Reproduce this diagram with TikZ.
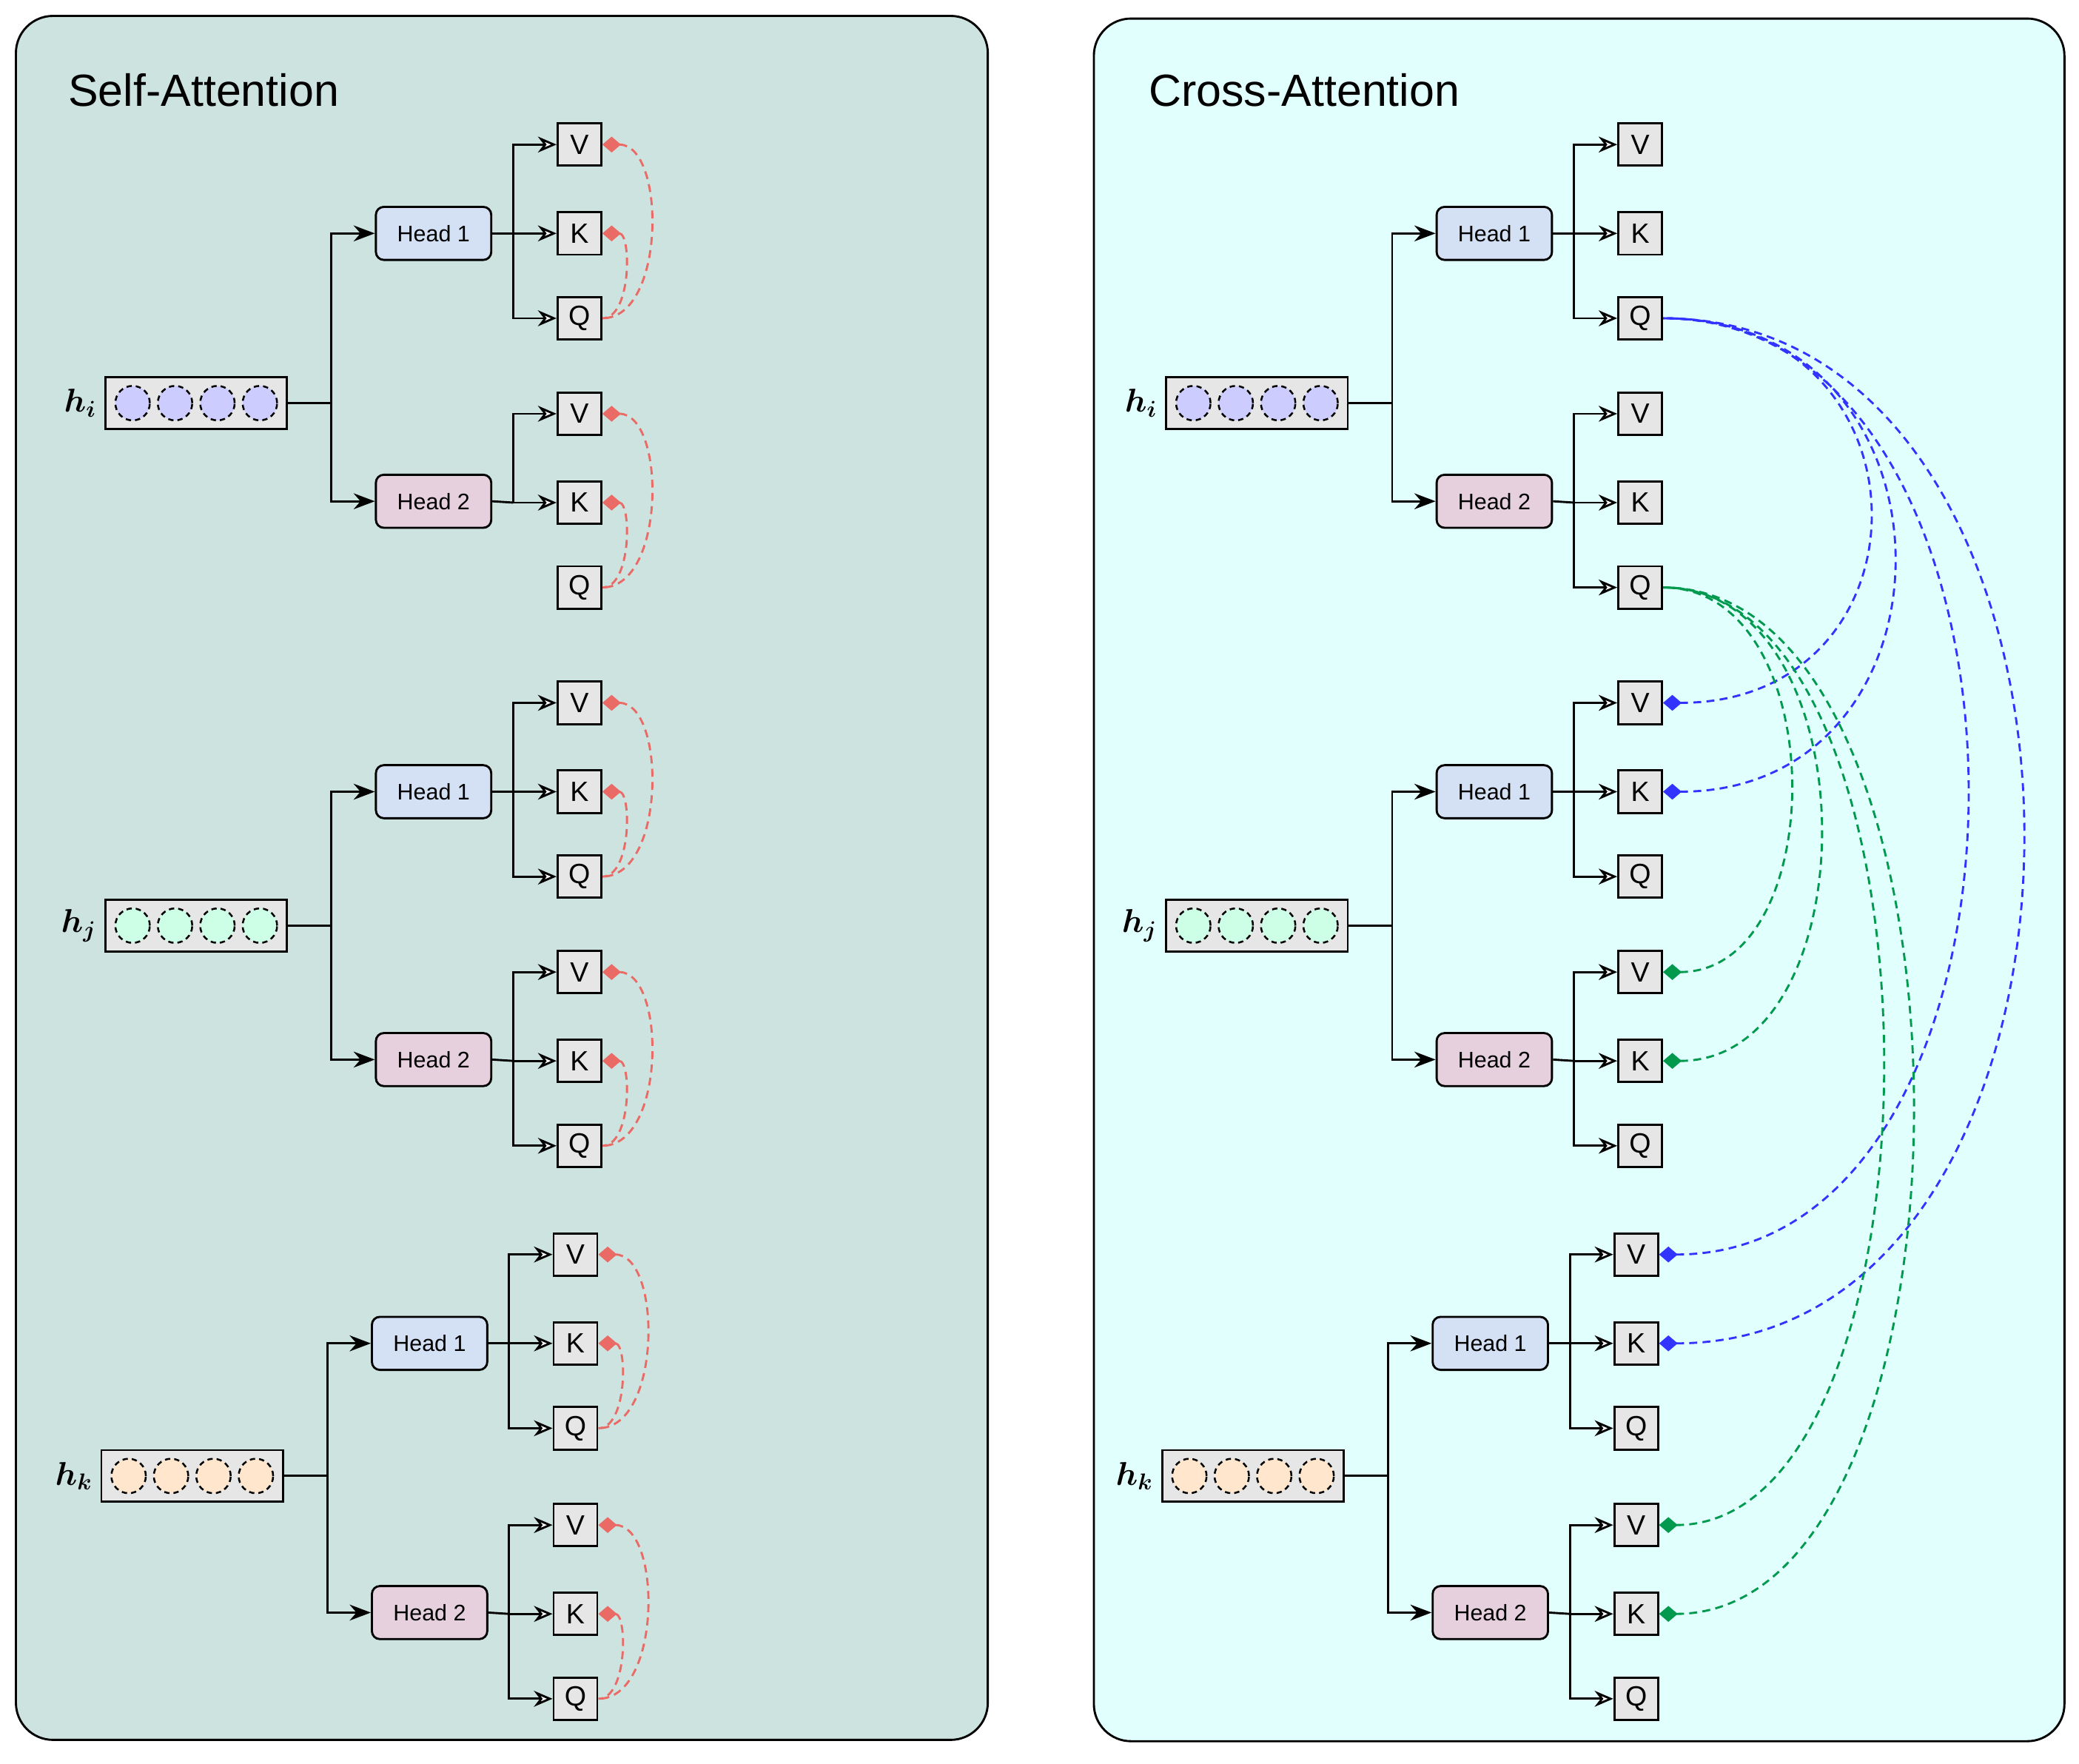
\documentclass[tikz,border=0pt]{standalone}
\usepackage{fontspec}
\setmainfont{Liberation Sans}
\usepackage{amsmath,bm}
\usetikzlibrary{arrows.meta}
\definecolor{selfbg}{HTML}{CDE3DF}
\definecolor{crossbg}{HTML}{E0FFFD}
\definecolor{h1fill}{HTML}{D4E1F5}
\definecolor{h2fill}{HTML}{E6D0DE}
\definecolor{boxfill}{HTML}{E6E6E6}
\definecolor{redl}{HTML}{EA6B66}
\definecolor{bluel}{HTML}{3333FF}
\definecolor{greenl}{HTML}{00994D}
\definecolor{cpurple}{HTML}{CCCCFF}
\definecolor{cgreen}{HTML}{CCFFE6}
\definecolor{corange}{HTML}{FFE6CC}
\tikzset{
  panel/.style={draw=black,line width=1.6pt,rounded corners=28pt},
  hbox/.style={draw,line width=1.6pt,fill=boxfill,minimum width=137pt,minimum height=39pt,inner sep=0pt},
  cell/.style={draw,dashed,dash pattern=on 4pt off 3pt,line width=1.4pt,circle,minimum size=26pt,inner sep=0pt},
  head/.style={draw,line width=1.6pt,rounded corners=6pt,minimum width=87pt,minimum height=40pt,inner sep=0pt,font=\fontsize{17}{20}\selectfont},
  qkv/.style={draw,line width=1.6pt,fill=boxfill,minimum width=33pt,minimum height=32pt,inner sep=0pt,font=\fontsize{21}{24}\selectfont},
  conn/.style={line width=1.6pt},
  harrow/.style={conn,-{Stealth[length=16pt,width=12pt]}},
  qarrow/.style={conn,-{Stealth[open,length=14pt,width=12pt,fill=white]}},
  link/.style={line width=1.6pt,dash pattern=on 6pt off 4pt,{Diamond[length=14pt,width=12pt]}-},
  hlabel/.style={font=\fontsize{26}{30}\selectfont,anchor=east},
  title/.style={font=\fontsize{34}{40}\selectfont,anchor=west}
}
% #1 prefix, #2 xoff, #3 yHead1, #4 yHead2, #5 yh, #6 circle fill, #7 label, #8 Q2 connected (1/0)
\newcommand\mygroup[8]{%
  \node[hbox] (#1-h) at (148+#2,#5) {};
  \foreach \dx/\k in {-48/a,-16/b,16/c,48/d}{\node[cell,fill=#6] (#1-c\k) at (148+#2+\dx,#5) {};}
  \node[hlabel] (#1-lab) at (76+#2,#5) {$\bm{h_{#7}}$};
  \node[head,fill=h1fill] (#1-H1) at (327+#2,#3) {Head 1};
  \node[head,fill=h2fill] (#1-H2) at (327+#2,#4) {Head 2};
  \node[qkv] (#1-1V) at (437+#2,#3-67) {V};
  \node[qkv] (#1-1K) at (437+#2,#3) {K};
  \node[qkv] (#1-1Q) at (437+#2,#3+64) {Q};
  \node[qkv] (#1-2V) at (437+#2,#4-66) {V};
  \node[qkv] (#1-2K) at (437+#2,#4+1) {K};
  \node[qkv] (#1-2Q) at (437+#2,#4+65) {Q};
  \coordinate (#1-j) at (250+#2,#5);
  \draw[conn] (#1-h.east) -- (#1-j);
  \draw[harrow] (#1-j) |- (#1-H1.west);
  \draw[harrow] (#1-j) |- (#1-H2.west);
  \coordinate (#1-j1) at (387+#2,#3);
  \coordinate (#1-j2) at (387+#2,#4+1);
  \draw[conn] (#1-H1.east) -- (#1-j1);
  \draw[conn] (#1-H2.east) -- (#1-j2);
  \draw[qarrow] (#1-j1) |- (#1-1V.west);
  \draw[qarrow] (#1-j1) -- (#1-1K.west);
  \draw[qarrow] (#1-j1) |- (#1-1Q.west);
  \draw[qarrow] (#1-j2) |- (#1-2V.west);
  \draw[qarrow] (#1-j2) -- (#1-2K.west);
  \ifnum#8=1 \draw[qarrow] (#1-j2) |- (#1-2Q.west);\fi
}
\newcommand\redlinks[1]{%
  \foreach \hh in {1,2}{
    \draw[link,redl] (#1-\hh V.east) .. controls +(48,0) and +(48,0) .. (#1-\hh Q.east);
    \draw[link,redl] (#1-\hh K.east) .. controls +(22,0) and +(22,0) .. (#1-\hh Q.east);
  }
}
\newcommand\xlink[4]{% color, source, target, X control
  \draw[link,#1] (#3.east) .. controls (#4,{0}|-#3.east) and (#4,{0}|-#2.east) .. (#2.east);
}
\begin{document}
\begin{tikzpicture}[x=1pt,y=-1pt]
\useasboundingbox (0,0) rectangle (1568,1330);
\draw[panel,fill=selfbg] (12,12) rectangle (745,1312);
\draw[panel,fill=crossbg] (825,14) rectangle (1557,1313);
\node[title] (t1) at (48,68) {Self-Attention};
\node[title] (t2) at (863,68) {Cross-Attention};
\mygroup{si}{0}{176}{378}{304}{cpurple}{i}{0}
\mygroup{sj}{0}{597}{799}{698}{cgreen}{j}{1}
\mygroup{sk}{-3}{1013}{1216}{1113}{corange}{k}{1}
\redlinks{si}\redlinks{sj}\redlinks{sk}
\mygroup{ci}{800}{176}{378}{304}{cpurple}{i}{1}
\mygroup{cj}{800}{597}{799}{698}{cgreen}{j}{1}
\mygroup{ck}{797}{1013}{1216}{1113}{corange}{k}{1}
\xlink{bluel}{ci-1Q}{cj-1V}{1462}
\xlink{bluel}{ci-1Q}{cj-1K}{1486}
\xlink{bluel}{ci-1Q}{ck-1V}{1560}
\xlink{bluel}{ci-1Q}{ck-1K}{1616}
\xlink{greenl}{ci-2Q}{cj-2V}{1382}
\xlink{greenl}{ci-2Q}{cj-2K}{1412}
\xlink{greenl}{ci-2Q}{ck-2V}{1475}
\xlink{greenl}{ci-2Q}{ck-2K}{1505}
\end{tikzpicture}
\end{document}
